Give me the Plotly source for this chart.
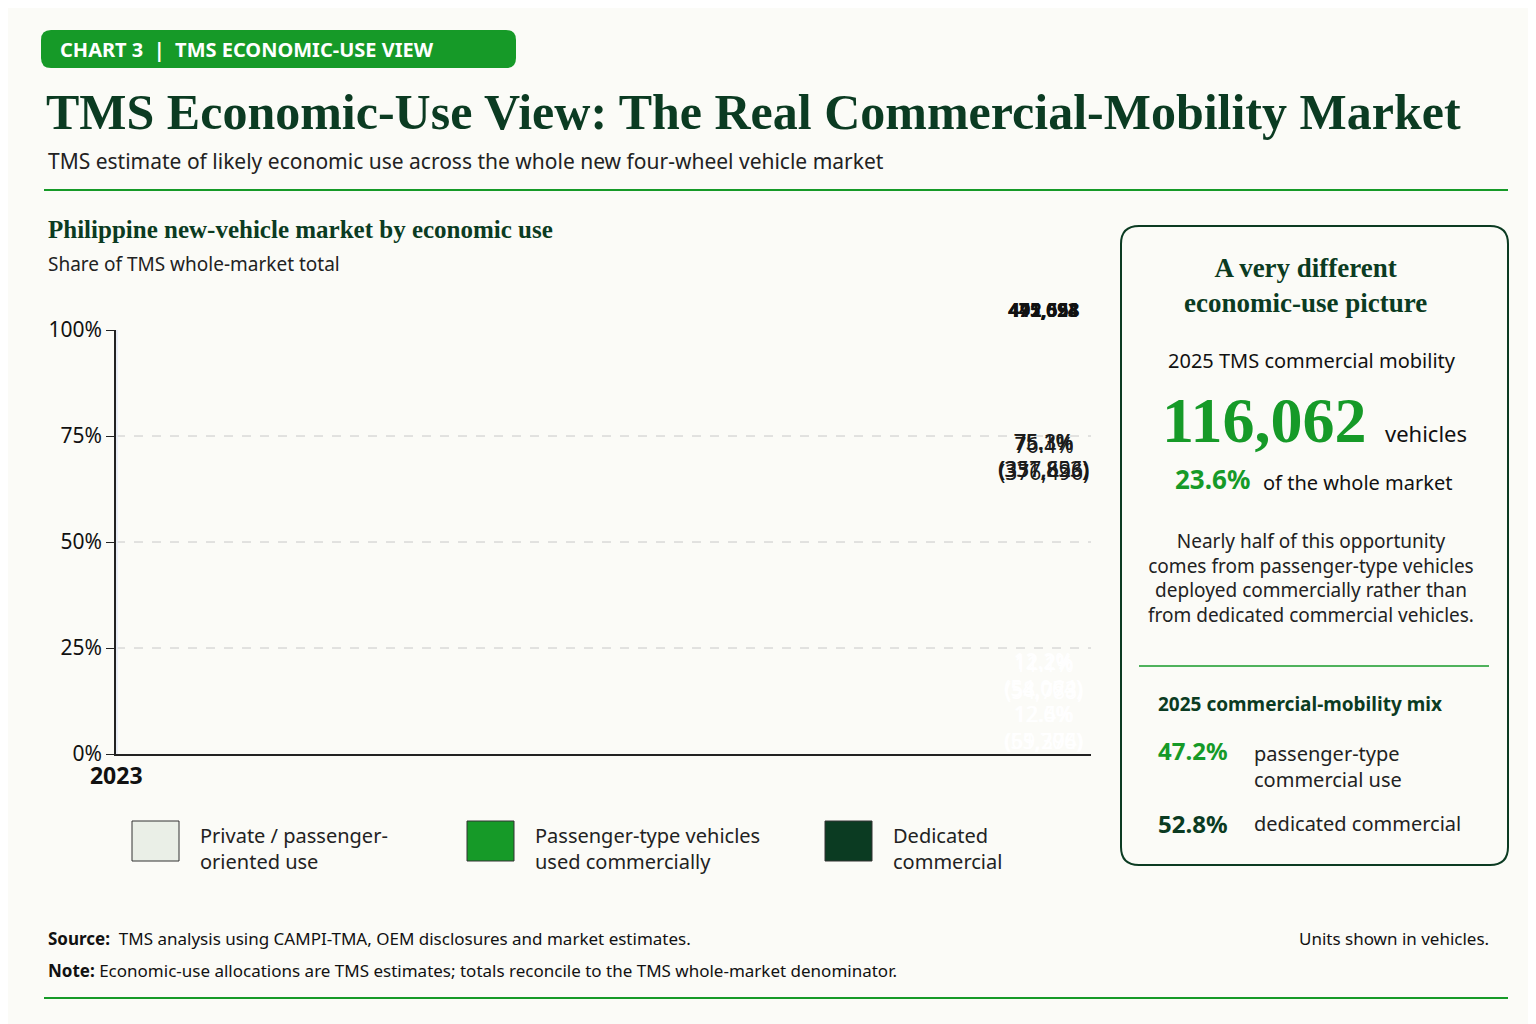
import plotly.graph_objects as go

years = ["2023", "2024", "2025"]
totals = [441623, 475094, 492558]
private_pct = [75.1, 75.3, 76.4]
private_units = [331853, 357626, 376496]
ptv_pct = [12.2, 12.2, 11.1]
ptv_units = [54064, 58073, 54788]
ded_pct = [12.6, 12.5, 12.4]
ded_units = [55706, 59395, 61274]

W, H = 1536, 1024
L, R, T, B = 108, 1083, 322, 746
BG = "#FBFBF7"
DARK = "#0B3B22"
GREEN = "#169A28"
LIGHT = "#EAEFE7"
SANS = "Noto Sans"
SERIF = "Liberation Serif"


def px(x):
    return (x - L) / (R - L)


def py(y):
    return (B - y) / (B - T)


def rounded(x0, y0, x1, y1, r):
    X0, X1 = px(x0), px(x1)
    Y0, Y1 = py(y0), py(y1)
    rx, ry = r / (R - L), r / (B - T)
    return (f"M {X0+rx},{Y0} L {X1-rx},{Y0} Q {X1},{Y0} {X1},{Y0-ry} "
            f"L {X1},{Y1+ry} Q {X1},{Y1} {X1-rx},{Y1} L {X0+rx},{Y1} "
            f"Q {X0},{Y1} {X0},{Y1+ry} L {X0},{Y0-ry} Q {X0},{Y0} {X0+rx},{Y0} Z")


fig = go.Figure()
fig.add_bar(x=years, y=ded_pct, marker_color=DARK, width=0.57, hoverinfo="skip")
fig.add_bar(x=years, y=ptv_pct, marker_color=GREEN, width=0.57, hoverinfo="skip")
fig.add_bar(x=years, y=private_pct, marker_color=LIGHT, width=0.57, hoverinfo="skip")

ann = []
shapes = []


def text(x, y, t, size=20, color="#1a1a1a", font=SANS, xanchor="left", yanchor="middle", bold=False, align="left"):
    if bold:
        t = f"<b>{t}</b>"
    ann.append(dict(x=px(x), y=py(y), xref="paper", yref="paper", text=t, showarrow=False,
                    xanchor=xanchor, yanchor=yanchor, align=align,
                    font=dict(size=size, color=color, family=font)))


for i, yr in enumerate(years):
    base = ded_pct[i] + ptv_pct[i]
    ann.append(dict(x=yr, y=base + private_pct[i] * 0.5 + 8, xref="x", yref="y", showarrow=False,
                    text=f"{private_pct[i]:.1f}%<br>({private_units[i]:,})",
                    font=dict(size=21, color="#1a1a1a", family=SANS)))
    ann.append(dict(x=yr, y=ded_pct[i] + ptv_pct[i] / 2, xref="x", yref="y", showarrow=False,
                    text=f"{ptv_pct[i]:.1f}%<br>({ptv_units[i]:,})",
                    font=dict(size=21, color="white", family=SANS)))
    ann.append(dict(x=yr, y=ded_pct[i] / 2, xref="x", yref="y", showarrow=False,
                    text=f"{ded_pct[i]:.1f}%<br>({ded_units[i]:,})",
                    font=dict(size=21, color="white", family=SANS)))
    ann.append(dict(x=yr, y=100, xref="x", yref="y", showarrow=False, yshift=20,
                    text=f"<b>{totals[i]:,}</b>", font=dict(size=19, color="#111", family=SANS)))

# header badge
shapes.append(dict(type="path", xref="paper", yref="paper", path=rounded(33, 22, 508, 60, 10),
                   fillcolor=GREEN, line_width=0))
text(50, 42, "CHART 3  |  TMS ECONOMIC-USE VIEW", 20, "white", bold=True)
text(36, 104, "TMS Economic-Use View: The Real Commercial-Mobility Market", 50, DARK, SERIF, bold=True)
text(38, 153, "TMS estimate of likely economic use across the whole new four-wheel vehicle market", 21, "#222")
shapes.append(dict(type="line", xref="paper", yref="paper", x0=px(36), x1=px(1500), y0=py(182), y1=py(182),
                   line=dict(color=GREEN, width=2)))
text(38, 221, "Philippine new-vehicle market by economic use", 25, DARK, SERIF, bold=True)
text(38, 256, "Share of TMS whole-market total", 19, "#222")

# legend
leg = [(124, LIGHT, "Private / passenger-<br>oriented use"),
       (459, GREEN, "Passenger-type vehicles<br>used commercially"),
       (817, DARK, "Dedicated<br>commercial")]
for x0, c, t in leg:
    shapes.append(dict(type="rect", xref="paper", yref="paper", x0=px(x0), x1=px(x0 + 47),
                       y0=py(813), y1=py(853), fillcolor=c, line=dict(color="#333", width=1)))
    text(x0 + 66, 840, t, 20, "#222")

# right panel
shapes.append(dict(type="path", xref="paper", yref="paper", path=rounded(1113, 218, 1500, 857, 18),
                   fillcolor="rgba(0,0,0,0)", line=dict(color=DARK, width=2)))
text(1297, 277, "A very different<br>economic-use picture", 27, DARK, SERIF, xanchor="center", bold=True, align="center")
text(1304, 352, "2025 TMS commercial mobility", 20, "#111", xanchor="center")
text(1256, 412, "116,062", 64, GREEN, SERIF, xanchor="center", bold=True)
text(1375, 425, "vehicles", 22, "#111")
text(1165, 471, "<b>23.6%</b>", 26, GREEN)
text(1253, 474, "of the whole market", 20, "#111")
text(1303, 570, "Nearly half of this opportunity<br>comes from passenger-type vehicles<br>deployed commercially rather than<br>from dedicated commercial vehicles.",
     19, "#222", xanchor="center", align="center")
shapes.append(dict(type="line", xref="paper", yref="paper", x0=px(1131), x1=px(1481), y0=py(658), y1=py(658),
                   line=dict(color=GREEN, width=1.5)))
text(1148, 696, "2025 commercial-mobility mix", 19, DARK, bold=True)
text(1148, 742, "<b>47.2%</b>", 24, GREEN)
text(1244, 758, "passenger-type<br>commercial use", 20, "#222")
text(1148, 815, "<b>52.8%</b>", 24, DARK)
text(1244, 815, "dedicated commercial", 20, "#222")

# footer
text(38, 930, "<b>Source:</b>  TMS analysis using CAMPI-TMA, OEM disclosures and market estimates.", 17, "#111")
text(1483, 930, "Units shown in vehicles.", 17, "#111", xanchor="right")
text(38, 962, "<b>Note:</b> Economic-use allocations are TMS estimates; totals reconcile to the TMS whole-market denominator.", 17, "#111")
shapes.append(dict(type="line", xref="paper", yref="paper", x0=px(36), x1=px(1500), y0=py(990), y1=py(990),
                   line=dict(color=GREEN, width=2)))

for g in [25, 50, 75]:
    shapes.append(dict(type="line", xref="x domain", yref="y", x0=0, x1=1, y0=g, y1=g, layer="below",
                       line=dict(color="#c8c8c8", width=1, dash="dash")))

fig.update_layout(
    width=W, height=H, barmode="stack", showlegend=False,
    paper_bgcolor=BG, plot_bgcolor=BG,
    margin=dict(l=L, r=W - R, t=T, b=H - B),
    annotations=ann, shapes=shapes,
)
fig.update_yaxes(range=[0, 100], tickvals=[0, 25, 50, 75, 100], ticktext=["0%", "25%", "50%", "75%", "100%"],
                 showgrid=False, showline=True, linecolor="#222", linewidth=1.5, ticks="outside",
                 ticklen=8, tickcolor="#222", tickfont=dict(size=21, color="#111", family=SANS), zeroline=False)
fig.update_xaxes(type="category", showline=True, linecolor="#222", linewidth=2,
                 tickfont=dict(size=23, color="#111", family=SANS),
                 tickprefix="<b>", ticksuffix="</b>")

fig.write_html("out.html")
